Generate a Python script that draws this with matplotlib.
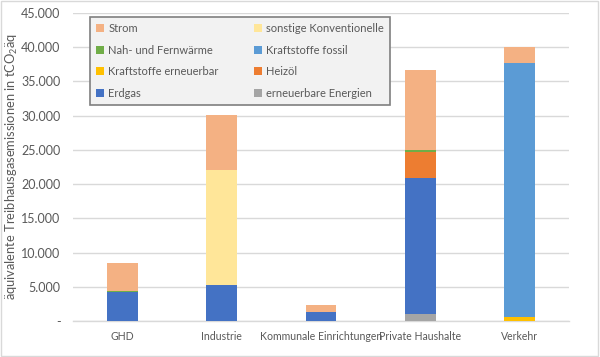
import matplotlib
matplotlib.use("Agg")
import matplotlib.pyplot as plt
from matplotlib.patches import Rectangle
import numpy as np

plt.rcParams['font.family'] = ['Lato', 'DejaVu Sans']
plt.rcParams['mathtext.fontset'] = 'custom'
plt.rcParams['mathtext.rm'] = 'Lato'
plt.rcParams['mathtext.it'] = 'Lato:italic'

categories = ["GHD", "Industrie", "Kommunale Einrichtungen", "Private Haushalte", "Verkehr"]

# bottom to top stacking order
series_names = ["erneuerbare Energien", "Erdgas", "Heizöl", "Kraftstoffe erneuerbar",
                "Kraftstoffe fossil", "Nah- und Fernwärme", "sonstige Konventionelle", "Strom"]
erneuerbare_energien = [0, 0, 0, 1000, 0]
erdgas = [4250, 5200, 1300, 19900, 0]
heizoel = [0, 0, 0, 3800, 0]
kraftstoffe_erneuerbar = [0, 0, 0, 0, 650]
kraftstoffe_fossil = [0, 0, 0, 0, 37100]
nah_fernwaerme = [100, 0, 0, 300, 0]
sonstige_konv = [0, 16900, 0, 0, 0]
strom = [4150, 8000, 1050, 11600, 2250]
values = [erneuerbare_energien, erdgas, heizoel, kraftstoffe_erneuerbar,
          kraftstoffe_fossil, nah_fernwaerme, sonstige_konv, strom]
colors = ["#A5A5A5", "#4472C4", "#ED7D31", "#FFC000", "#5B9BD5", "#70AD47", "#FFE699", "#F4B183"]

yticks = [0, 5000, 10000, 15000, 20000, 25000, 30000, 35000, 40000, 45000]
ytick_labels = ["-", "5.000", "10.000", "15.000", "20.000", "25.000", "30.000", "35.000", "40.000", "45.000"]

fig = plt.figure(figsize=(6.0, 3.57), dpi=100)
ax = fig.add_axes([73/600, 1-321/357, (569-73)/600, (321-13)/357])

x = np.arange(len(categories))
bottom = np.zeros(len(categories))
handles = {}
for name, vals, c in zip(series_names, values, colors):
    b = ax.bar(x, vals, bottom=bottom, width=0.31, color=c, label=name, zorder=3)
    handles[name] = b
    bottom += np.array(vals)

ax.set_xlim(-0.5, 4.5)
ax.set_ylim(0, 45000)
ax.set_yticks(yticks)
ax.set_yticklabels(ytick_labels)
ax.set_xticks(x)
ax.set_xticklabels(categories)
ax.tick_params(length=0, colors="#595959")
ax.tick_params(axis='x', labelsize=7.6, pad=7)
ax.tick_params(axis='y', labelsize=9, pad=9)
ax.grid(axis='y', color="#D9D9D9", linewidth=1, zorder=0)
for s in ["top", "right", "left"]:
    ax.spines[s].set_visible(False)
ax.spines["bottom"].set_color("#D9D9D9")
ax.spines["bottom"].set_linewidth(1)

ax.set_ylabel(r"äquivalente Treibhausgasemissionen in tCO$_2$äq", fontsize=9.3, color="#595959")
ax.yaxis.set_label_coords(-0.107, 0.5)

# legend order (column-wise for 2 columns, reproducing row-wise Excel layout)
leg_order = ["Strom", "Nah- und Fernwärme", "Kraftstoffe erneuerbar", "Erdgas",
             "sonstige Konventionelle", "Kraftstoffe fossil", "Heizöl", "erneuerbare Energien"]
leg = ax.legend([handles[n] for n in leg_order], leg_order, ncol=2,
                loc='upper left', bbox_to_anchor=(0.034, 0.987, 0.605, 0.0), mode='expand',
                fontsize=8, frameon=True, fancybox=False, framealpha=1,
                facecolor="#F2F2F2", edgecolor="#7F7F7F",
                handlelength=0.7, handleheight=0.7, handletextpad=0.4,
                labelspacing=0.95, borderpad=0.55, columnspacing=1.0,
                borderaxespad=0.0)
leg.get_frame().set_linewidth(1.2)
for t in leg.get_texts():
    t.set_color("#595959")
leg.set_zorder(5)

fig.patches.append(Rectangle((0.002, 0.003), 0.995, 0.993, transform=fig.transFigure,
                             fill=False, edgecolor="#D9D9D9", linewidth=1))

fig.savefig("out.png", dpi=100)
